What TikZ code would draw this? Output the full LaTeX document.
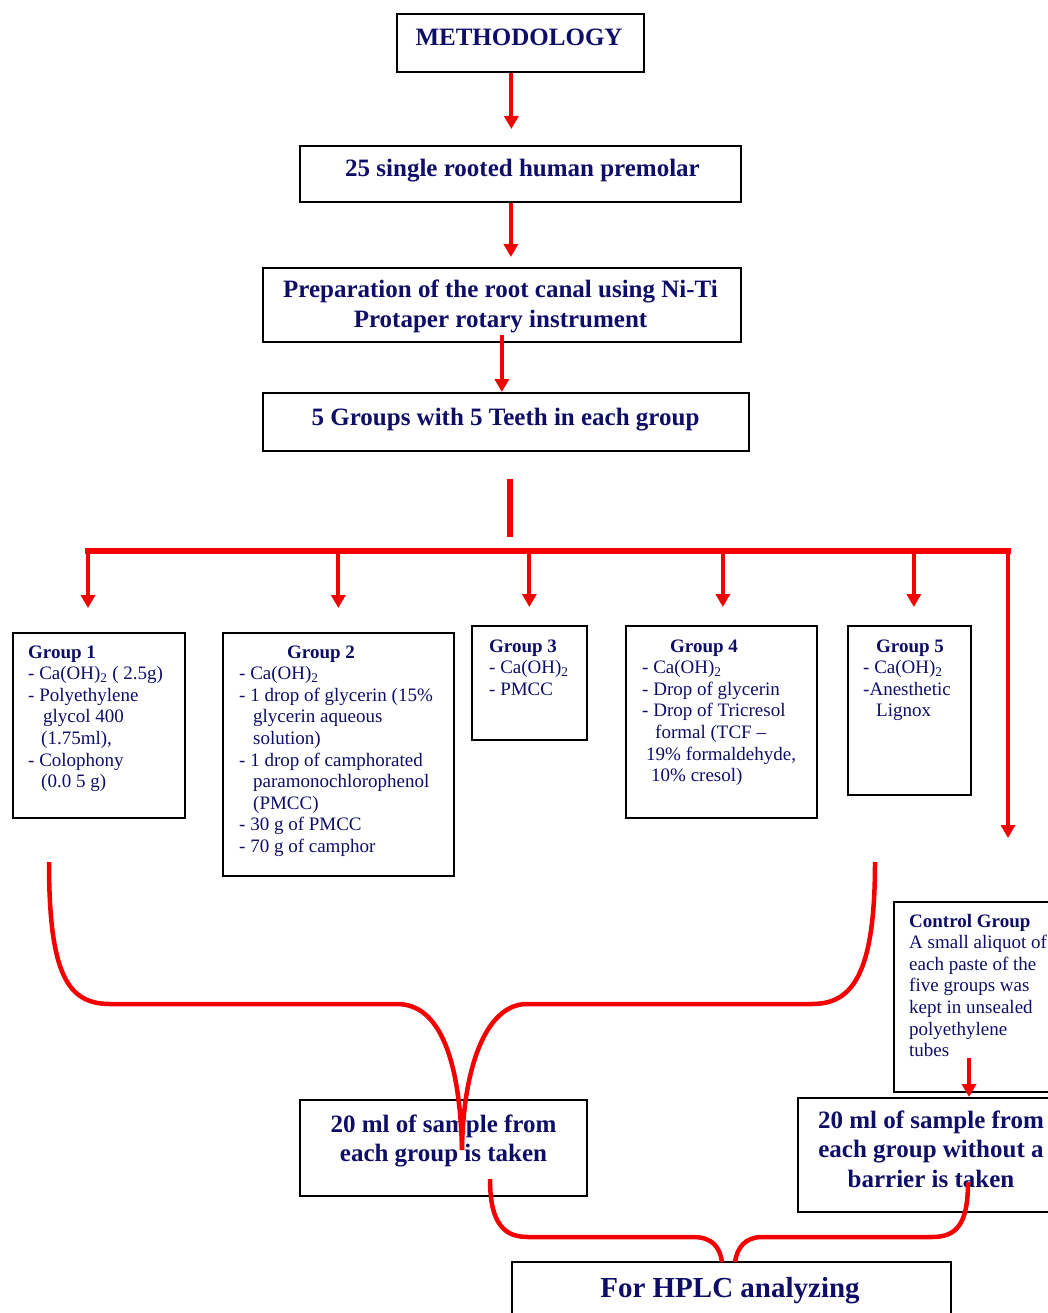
\documentclass[tikz,border=0pt]{standalone}
\usepackage{fontspec}
\setmainfont{Liberation Serif}
\usetikzlibrary{arrows.meta}
\definecolor{navy}{RGB}{14,14,105}
\definecolor{rline}{RGB}{245,0,0}
\newcommand{\leftlines}[1]{\vtop{\halign{##\hfil\cr#1\crcr}}}
\newcommand{\centerlines}[1]{\vtop{\halign{\hfil##\hfil\cr#1\crcr}}}
\tikzset{
  box/.style={draw=black, line width=1.7pt, inner sep=0pt, anchor=north west},
  btxt/.style={inner sep=0pt, text=navy, font=\fontsize{25}{29.5}\selectfont\bfseries, anchor=base},
  gtxt/.style={inner sep=0pt, text=navy, font=\fontsize{19}{21.6}\selectfont, anchor=base west},
  arr/.style={draw=rline, line width=4pt, -{Triangle[width=14pt,length=13pt]}},
  bar/.style={draw=rline, line width=6pt},
  brace/.style={draw=rline, line width=4.5pt},
}
\begin{document}
\begin{tikzpicture}[x=1pt,y=-1pt]
\useasboundingbox (0,0) rectangle (1048,1313);
\fill[white] (0,0) rectangle (1048,1313);
\clip (0,0) rectangle (1048,1313);

% boxes
\node[box, minimum width=247, minimum height=58] (m) at (396,13) {};
\node[box, minimum width=441, minimum height=56] (b2) at (299,145) {};
\node[box, minimum width=478, minimum height=74] (b3) at (262,267) {};
\node[box, minimum width=486, minimum height=58] (b4) at (262,392) {};
\node[box, minimum width=172, minimum height=185] (g1) at (12,632) {};
\node[box, minimum width=231, minimum height=243] (g2) at (222,632) {};
\node[box, minimum width=115, minimum height=114] (g3) at (471,625) {};
\node[box, minimum width=191, minimum height=192] (g4) at (625,625) {};
\node[box, minimum width=123, minimum height=169] (g5) at (847,625) {};
\node[box, minimum width=175, minimum height=190] (ctl) at (893,901) {};
\node[box, minimum width=287, minimum height=96] (s1) at (299,1099) {};
\node[box, minimum width=268, minimum height=114] (s2) at (797,1097) {};
\node[box, minimum width=439, minimum height=90] (hp) at (511,1261) {};

% texts
\node[btxt] (tm) at (519,46) {METHODOLOGY};
\node[btxt] (t2) at (522.5,177) {25 single rooted human premolar};
\node[btxt] (t3) at (500.5,298) {\centerlines{Preparation of the root canal using Ni-Ti\cr Protaper rotary instrument}};
\node[btxt] (t4) at (505.5,425) {5 Groups with 5 Teeth in each group};

\node[gtxt] (tg1) at (28,658) {\leftlines{\textbf{Group 1}\cr
- Ca(OH)\textsubscript{2} ( 2.5g)\cr
- Polyethylene\cr
\hspace*{15pt}glycol 400\cr
\hspace*{13pt}(1.75ml),\cr
- Colophony\cr
\hspace*{13pt}(0.0 5 g)}};

\node[gtxt] (tg2) at (239,658) {\leftlines{\hspace*{48pt}\textbf{Group 2}\cr
- Ca(OH)\textsubscript{2}\cr
- 1 drop of glycerin (15\%\cr
\hspace*{14pt}glycerin aqueous\cr
\hspace*{14pt}solution)\cr
- 1 drop of camphorated\cr
\hspace*{14pt}paramonochlorophenol\cr
\hspace*{14pt}(PMCC)\cr
- 30 g of PMCC\cr
- 70 g of camphor}};

\node[gtxt] (tg3) at (489,652) {\leftlines{\textbf{Group 3}\cr
- Ca(OH)\textsubscript{2}\cr
- PMCC}};

\node[gtxt] (tg4) at (642,652) {\leftlines{\hspace*{28pt}\textbf{Group 4}\cr
- Ca(OH)\textsubscript{2}\cr
- Drop of glycerin\cr
- Drop of Tricresol\cr
\hspace*{13pt}formal (TCF \textendash\cr
\hspace*{4pt}19\% formaldehyde,\cr
\hspace*{9pt}10\% cresol)}};

\node[gtxt] (tg5) at (863,652) {\leftlines{\hspace*{13pt}\textbf{Group 5}\cr
- Ca(OH)\textsubscript{2}\cr
-Anesthetic\cr
\hspace*{13pt}Lignox}};

\node[gtxt] (tctl) at (909,927) {\leftlines{\textbf{Control Group}\cr
A small aliquot of\cr
each paste of the\cr
five groups was\cr
kept in unsealed\cr
polyethylene\cr
tubes}};

\node[btxt] (ts1) at (443.5,1132) {\centerlines{20 ml of sample from\cr each group is taken}};
\node[btxt] (ts2) at (931,1128) {\centerlines{20 ml of sample from\cr each group without a\cr barrier is taken}};
\node[btxt, font=\fontsize{29}{34}\selectfont\bfseries] (thp) at (730,1297) {For HPLC analyzing};

% vertical flow arrows
\draw[arr, shorten >=16pt] ([xshift=-9pt]m.south) -- ([xshift=-9pt]m.south |- b2.north);
\draw[arr, shorten >=10pt] ([xshift=-9.5pt]b2.south) -- ([xshift=-9.5pt]b2.south |- b3.north);
\draw[arr] ([yshift=8pt]b3.south) -- (b3.south |- b4.north);

% branching
\coordinate (hub) at (510,479);
\draw[bar] (hub) -- ++(0,58);
\coordinate (busL) at (88,551);
\coordinate (busR) at (1008,551);
\draw[bar, line cap=rect] (busL) -- (busR);
\draw[arr, shorten >=24pt] (busL) -- (busL |- g1.north);
\draw[arr, shorten >=24pt] (busL -| g2.north) -- (g2.north);
\draw[arr, shorten >=18pt] (busL -| g3.north) -- (g3.north);
\draw[arr, shorten >=18pt] ([xshift=1.5pt]busL -| g4.north) -- ([xshift=1.5pt]g4.north);
\draw[arr, shorten >=18pt] ([xshift=4.5pt]busL -| g5.north) -- ([xshift=4.5pt]g5.north);
\draw[arr, shorten >=63pt] (busR) -- (busR |- ctl.north);

% control arrow
\coordinate (ca) at (969,1058);
\draw[arr] (ca) -- (ca |- s2.north);

% big brace
\coordinate (bl) at (49,862);
\coordinate (br) at (875,862);
\coordinate (tipA) at (462,1150);
\draw[brace] (bl) .. controls (49,975) and (68,1004) .. (110,1004) -- (397,1004)
  .. controls (440,1004) and (460,1060) .. (tipA);
\draw[brace] (br) .. controls (875,975) and (852,1004) .. (812,1004) -- (527,1004)
  .. controls (485,1004) and (463,1070) .. (tipA);

% bottom brace
\coordinate (s1o) at (490,1179);
\coordinate (s2o) at (968,1182);
\coordinate (hpA) at (722,1262);
\coordinate (hpB) at (735,1262);
\draw[brace] (s1o) .. controls (490,1225) and (505,1237) .. (528,1237) -- (693,1237)
  .. controls (713,1237) and (720,1248) .. (hpA);
\draw[brace] (s2o) .. controls (968,1225) and (956,1237) .. (932,1237) -- (762,1237)
  .. controls (745,1237) and (737,1248) .. (hpB);
\end{tikzpicture}
\end{document}
